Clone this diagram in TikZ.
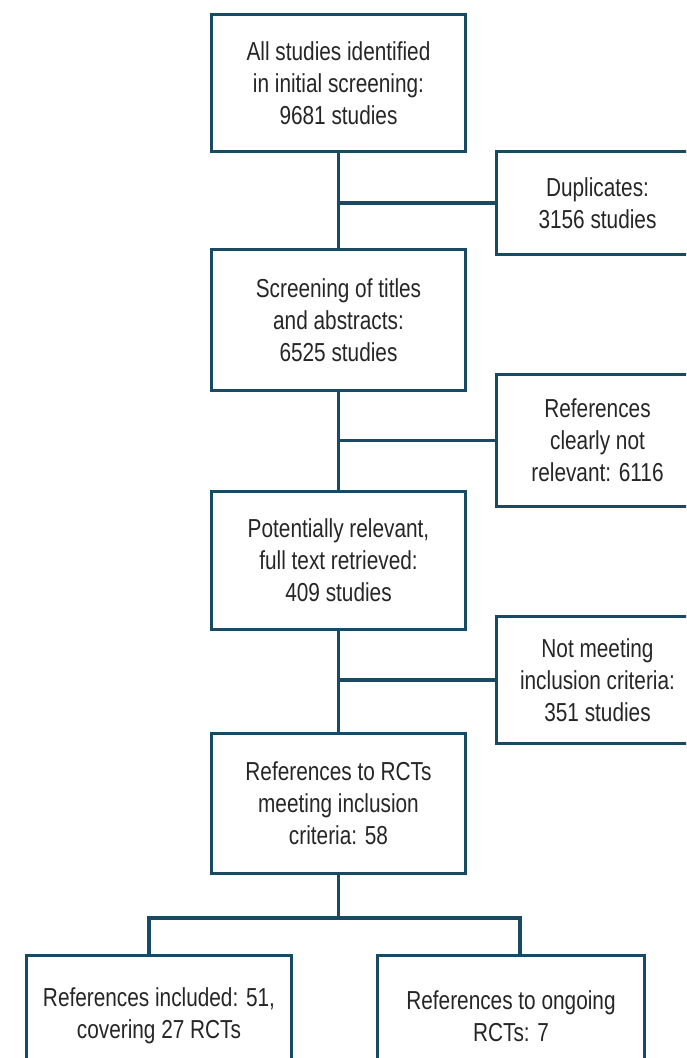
\documentclass[tikz,border=0pt]{standalone}
\usepackage{fontspec}
\setmainfont{Liberation Sans}[FakeStretch=0.8]
\definecolor{flowline}{RGB}{25,74,100}
\begin{document}
\begin{tikzpicture}[x=1pt,y=-1pt,line width=3.5pt,
	box/.style={draw=flowline,rectangle,align=center,inner sep=0pt,
		font=\fontsize{26}{32}\selectfont,text=black!85}]
	\useasboundingbox (0,0) rectangle (686,1058);
	\fill [white] (0,0) rectangle (686,1058);
	\clip (0,0) rectangle (686,1058);

	% main column
	\node [box,minimum width=254,minimum height=137] at (338.5,83) (box 1)
		{All studies identified\\in initial screening:\\9681 studies};
	\node [box,minimum width=254,minimum height=141] at (338.5,320) (box 2)
		{Screening of titles\\and abstracts:\\6525 studies};
	\node [box,minimum width=254,minimum height=138] at (338.5,560.5) (box 3)
		{Potentially relevant,\\full text retrieved:\\409 studies};
	\node [box,minimum width=254,minimum height=140] at (338.5,803.5) (box 4)
		{References to RCTs\\meeting inclusion\\criteria: 58};

	% excluded, on the right
	\node [box,minimum width=202,minimum height=103] at (597.5,203) (out 1)
		{Duplicates:\\3156 studies};
	\node [box,minimum width=202,minimum height=132] at (597.5,440.5) (out 2)
		{References\\clearly not\\relevant: 6116};
	\node [box,minimum width=202,minimum height=127] at (597.5,680) (out 3)
		{Not meeting\\inclusion criteria:\\351 studies};

	% bottom row
	\node [box,minimum width=265,minimum height=121] at (159,1016) (end 1)
		{References included: 51,\\covering 27 RCTs};
	\node [box,minimum width=267,minimum height=121] at (511,1016) (end 2)
		{References to ongoing\\RCTs: 7};

	\foreach \n [count=\m from 2] in {1,2,3}{
		\draw [flowline] (box \n) -- (box \m);
		\draw [flowline] (box \n.south |- out \n.west) -- (out \n.west);
	}

	\coordinate (split) at (338.5,918);
	\coordinate (split left) at (149,918);
	\coordinate (split right) at (520,918);
	\draw [flowline] (box 4) -- (split);
	\draw [flowline,line join=miter] (split left |- end 1.north) -- (split left)
		-- (split right) -- (split right |- end 2.north);

\end{tikzpicture}
\end{document}
